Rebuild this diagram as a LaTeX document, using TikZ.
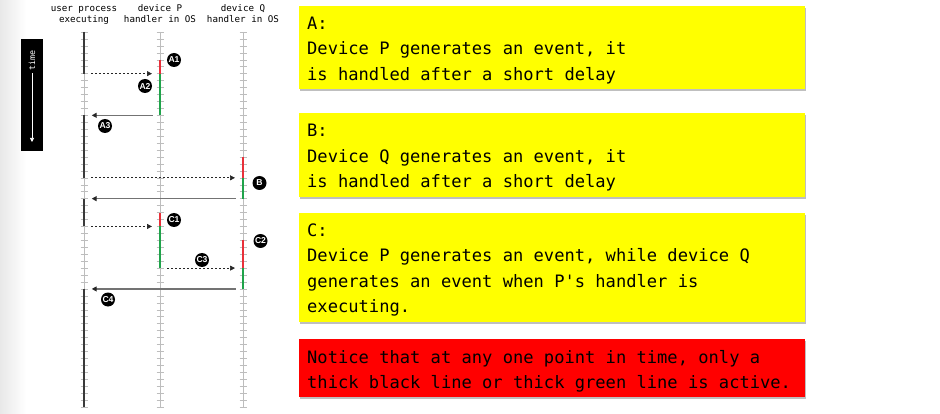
\documentclass[tikz,border=0pt]{standalone}
\usepackage{fontspec}
\setmonofont{DejaVu Sans Mono}
\newfontfamily\lblfont{Liberation Sans}
\usetikzlibrary{arrows.meta,shadows}

\definecolor{evred}{HTML}{E8303A}
\definecolor{evgreen}{HTML}{1FA34A}
\definecolor{tickgray}{HTML}{BDBDBD}
\definecolor{runblack}{HTML}{3A3A3A}
\definecolor{notered}{HTML}{FF0000}
\definecolor{noteyellow}{HTML}{FFFF00}

\newcommand\notefont{\ttfamily\fontsize{17.1}{25.5}\selectfont}
\newcommand\headfont{\ttfamily\fontsize{9.2}{11}\selectfont}

\tikzset{
  timeline/.style={draw=tickgray, line width=0.6pt},
  tickmark/.style={draw=tickgray, line width=0.5pt},
  userrun/.style={draw=runblack, line width=2pt},
  pending/.style={draw=evred, line width=1.6pt},
  handling/.style={draw=evgreen, line width=1.6pt},
  signal/.style={draw=black!85, line width=0.7pt, dash pattern=on 2pt off 2pt,
    -{Triangle[length=5pt,width=5pt]}, shorten <=7pt, shorten >=8pt},
  reply/.style={draw=black!55, line width=1.2pt,
    -{Triangle[length=5pt,width=5pt,color=black!85]}, shorten <=7.5pt, shorten >=7.7pt},
  evlabel/.style={circle, fill=black, text=white, inner sep=0pt, minimum size=14pt,
    font=\lblfont\bfseries\fontsize{8.6}{9}\selectfont},
  headtext/.style={anchor=base, inner sep=0pt, font=\headfont},
  notebox/.style={anchor=north west, inner sep=0pt, minimum width=506pt,
    drop shadow={shadow xshift=1pt, shadow yshift=-1.5pt, fill=black, opacity=0.25}},
  notetext/.style={anchor=base west, inner sep=0pt, font=\notefont}
}

\begin{document}
\begin{tikzpicture}[x=1pt, y=-1pt]
\useasboundingbox (0,0) rectangle (940,414);

% soft grey edge on the left
\shade[left color=black!9, right color=white] (0,0) rectangle (26,414);

% column headers
\node[headtext] (hu1) at (84,11.7) {user process};
\node[headtext] (hu2) at (84,22.7) {executing};
\node[headtext] (hp1) at (160,11.7) {device P};
\node[headtext] (hp2) at (160,22.7) {handler in OS};
\node[headtext] (hq1) at (243,11.7) {device Q};
\node[headtext] (hq2) at (243,22.7) {handler in OS};

% time axis legend
\node[fill=black, inner sep=0pt, minimum width=22pt, minimum height=112pt] (timebox) at (32,95) {};
\node[rotate=90, text=white, inner sep=0pt, font=\ttfamily\fontsize{8.3}{9}\selectfont] (timelbl) at (32,60.5) {time};
\coordinate (timeend) at (32,142);
\draw[white, line width=0.6pt, -{Triangle[length=4pt,width=4pt]}, shorten <=2.5pt] (timelbl.west) -- (timeend);

% one time step per tick on every timeline
\foreach \k in {0,...,54} {
  \coordinate (usr\k)  at (84,{32+\k*6.9444});
  \coordinate (devp\k) at (160,{32+\k*6.9444});
  \coordinate (devq\k) at (243,{32+\k*6.9444});
  \draw[tickmark] ([xshift=-3.5pt]usr\k) -- ([xshift=3.5pt]usr\k);
  \draw[tickmark] ([xshift=-3.5pt]devp\k) -- ([xshift=3.5pt]devp\k);
  \draw[tickmark] ([xshift=-3.5pt]devq\k) -- ([xshift=3.5pt]devq\k);
}
\draw[timeline] (usr0) -- (usr54);
\draw[timeline] (devp0) -- (devp54);
\draw[timeline] (devq0) -- (devq54);

% user process running
\draw[userrun] (usr0) -- (usr6);
\draw[userrun] (usr12) -- (usr21);
\draw[userrun] (usr24) -- (usr28);
\draw[userrun] (usr37) -- (usr54);

% events waiting to be handled
\draw[pending] (devp4) -- (devp6);
\draw[pending] (devq18) -- (devq21);
\draw[pending] (devp26) -- (devp28);
\draw[pending] (devq30) -- (devq34);

% handlers running
\draw[handling] (devp6) -- (devp12);
\draw[handling] (devq21) -- (devq24);
\draw[handling] (devp28) -- (devp34);
\draw[handling] (devq34) -- (devq37);

% control transfers
\draw[signal] (usr6) -- (devp6);
\draw[reply] (devp12) -- (usr12);
\draw[signal] (usr21) -- (devq21);
\draw[reply] (devq24) -- (usr24);
\draw[signal] (usr28) -- (devp28);
\draw[signal] (devp34) -- (devq34);
\draw[reply] (devq37) -- (usr37);

% event labels
\node[evlabel] (lA1) at (174,60) {A1};
\node[evlabel] (lA2) at (145,86) {A2};
\node[evlabel] (lA3) at (105,126) {A3};
\node[evlabel] (lB)  at (259.5,183) {B};
\node[evlabel] (lC1) at (174,220) {C1};
\node[evlabel] (lC2) at (260.5,241) {C2};
\node[evlabel] (lC3) at (202,260) {C3};
\node[evlabel] (lC4) at (108,299.5) {C4};

% explanation boxes
\node[notebox, fill=noteyellow, minimum height=83pt] (boxA) at (299,6) {};
\node[notetext] (txtA) at (307,29.5) {\parbox[t]{490pt}{A:\\Device P generates an event, it\\is handled after a short delay}};

\node[notebox, fill=noteyellow, minimum height=84pt] (boxB) at (299,113) {};
\node[notetext] (txtB) at (307,136.7) {\parbox[t]{490pt}{B:\\Device Q generates an event, it\\is handled after a short delay}};

\node[notebox, fill=noteyellow, minimum height=109pt] (boxC) at (299,213) {};
\node[notetext] (txtC) at (307,236.3) {\parbox[t]{490pt}{C:\\Device P generates an event, while device Q\\generates an event when P's handler is\\executing.}};

\node[notebox, fill=notered, minimum height=58pt] (boxN) at (299,339) {};
\node[notetext] (txtN) at (307,363.3) {\parbox[t]{490pt}{Notice that at any one point in time, only a\\thick black line or thick green line is active.}};
\end{tikzpicture}
\end{document}
